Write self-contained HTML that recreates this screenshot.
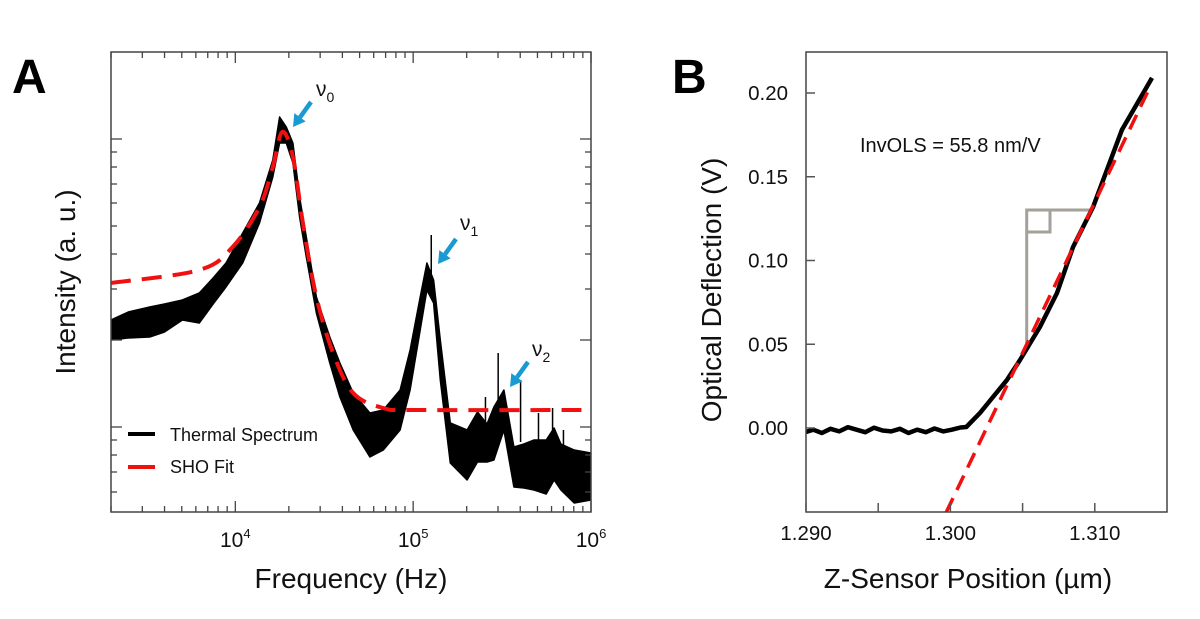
<!DOCTYPE html>
<html><head><meta charset="utf-8"><style>
html,body{margin:0;padding:0;background:#fff;}
svg{display:block;font-family:"Liberation Sans",Arial,sans-serif;}
</style></head><body>
<svg id="fig" width="1200" height="619" viewBox="0 0 1200 619"></svg>
<script>
// ---------- Panel A data ----------
const specFreq = [2000,2500,3300,4000,5040,6270,7500,8860,11000,13670,16250,17740,19340,21090,23000,25070,28580,33970,38710,46010,57150,67970,84460,96140,109600,119500,130300,142200,161800,201000,230000,260000,284300,323700,368600,420000,478400,560000,620000,677500,805000,1000000];
const specUpper = [0.96,1.0,1.025,1.04,1.06,1.095,1.17,1.245,1.395,1.545,1.76,1.975,1.925,1.845,1.575,1.375,1.075,0.875,0.745,0.595,0.495,0.51,0.61,0.81,1.075,1.245,1.16,0.86,0.445,0.41,0.5,0.44,0.525,0.61,0.325,0.34,0.36,0.36,0.42,0.34,0.31,0.295];
const specLower = [0.86,0.87,0.875,0.9,0.96,0.945,1.04,1.125,1.245,1.445,1.675,1.845,1.845,1.745,1.475,1.275,0.995,0.745,0.575,0.41,0.275,0.31,0.41,0.61,0.91,1.11,1.045,0.66,0.245,0.16,0.25,0.25,0.26,0.41,0.125,0.12,0.11,0.09,0.16,0.11,0.045,0.06];
const spikeFreq = [126400,255000,300600,401800,506700,608000,700000];
const spikeTop = [1.385,0.575,0.795,0.66,0.495,0.52,0.41];
const spikeBase = [1.15,0.4,0.45,0.35,0.3,0.3,0.3];
const fitFreq = [2000,6270,9650,13670,16250,18360,21090,23990,28580,35480,46010,67970,104900,1000000];
const fitVal = [1.145,1.21,1.325,1.525,1.725,1.9,1.775,1.445,1.075,0.795,0.595,0.52,0.51,0.51];
const yTickValsA = [1.865,1.80,1.725,1.64,1.545,1.43,1.29,1.115,0.86,0.425,0.36,0.285,0.2,0.1];
const yMajorA = [1.865,0.86,0.425];
const xDecadesA = [4,5,6];
// ---------- Panel B data ----------
const zPos = [1.2900,1.2905,1.2911,1.2917,1.2923,1.2929,1.2935,1.2941,1.2947,1.2953,1.2959,1.2965,1.2971,1.2977,1.2983,1.2989,1.2995,1.3001,1.3007,1.3011,1.30205,1.30295,1.30392,1.30482,1.3062,1.30738,1.30849,1.30988,1.31188,1.31396];
const defl = [-0.0024,-0.001,-0.003,-0.0005,-0.002,0.0005,-0.001,-0.0025,0.0002,-0.0015,-0.002,-0.0005,-0.003,-0.001,-0.0025,-0.0003,-0.002,-0.001,0.0003,0.0006,0.009,0.0185,0.0287,0.0406,0.0603,0.0806,0.108,0.132,0.178,0.209];
const fitZ = [1.2997,1.3139];
const fitD = [-0.0505,0.205];
const yTicksB = [0,0.05,0.10,0.15,0.20];
const yTickLabelsB = ["0.00","0.05","0.10","0.15","0.20"];
const xTicksB = [1.290,1.295,1.300,1.305,1.310];
const xTickLabelsB = ["1.290","","1.300","","1.310"];

const NS="http://www.w3.org/2000/svg";
const svg=document.getElementById('fig');
function mk(tag,attrs,parent){const e=document.createElementNS(NS,tag);for(const k in attrs)e.setAttribute(k,attrs[k]);(parent||svg).appendChild(e);return e;}

// ---- Panel A axes ----
const A={l:111,r:591,t:52,b:512};
const fmin=Math.log10(2000),fmax=6;
function xA(f){return A.l+(Math.log10(f)-fmin)/(fmax-fmin)*(A.r-A.l);}
function yA(v){return A.b-v*200;}
const gA=mk('g',{});


const clipA=mk('clipPath',{id:'clipA'},gA);mk('rect',{x:A.l,y:A.t,width:A.r-A.l,height:A.b-A.t},clipA);

let pts=[];
for(let i=0;i<specFreq.length;i++)pts.push(xA(specFreq[i]).toFixed(1)+','+yA(specUpper[i]).toFixed(1));
for(let i=specFreq.length-1;i>=0;i--)pts.push(xA(specFreq[i]).toFixed(1)+','+yA(specLower[i]).toFixed(1));
const band=mk('polygon',{points:pts.join(' '),fill:'#000',stroke:'#000','stroke-width':1.5,'stroke-linejoin':'round','clip-path':'url(#clipA)'},gA);


for(let i=0;i<spikeFreq.length;i++){
  const s=mk('line',{x1:xA(spikeFreq[i]),x2:xA(spikeFreq[i]),y1:yA(spikeBase[i]),y2:yA(spikeTop[i]),stroke:'#000','stroke-width':1.5},gA);
  
  
}
function smoothPath(P){let d='M'+P[0][0]+','+P[0][1];for(let i=0;i<P.length-1;i++){const p0=P[i-1]||P[i],p1=P[i],p2=P[i+1],p3=P[i+2]||P[i+1];const c1x=p1[0]+(p2[0]-p0[0])/6,c1y=p1[1]+(p2[1]-p0[1])/6,c2x=p2[0]-(p3[0]-p1[0])/6,c2y=p2[1]-(p3[1]-p1[1])/6;d+=' C'+c1x.toFixed(1)+','+c1y.toFixed(1)+' '+c2x.toFixed(1)+','+c2y.toFixed(1)+' '+p2[0].toFixed(1)+','+p2[1].toFixed(1);}return d;}
const fitPts=fitFreq.map((f,i)=>[xA(f),yA(fitVal[i])]);
const fitA=mk('path',{d:smoothPath(fitPts),fill:'none',stroke:'#f01010','stroke-width':4,'stroke-dasharray':'20 11','clip-path':'url(#clipA)'},gA);



const frA=mk('rect',{x:A.l,y:A.t,width:A.r-A.l,height:A.b-A.t,fill:'none',stroke:'#444','stroke-width':1.5},gA);


for(let d=3;d<=6;d++){for(let k=1;k<10;k++){const f=k*Math.pow(10,d);if(f<2000||f>1e6)continue;const x=xA(f);const L=k===1?11:6;
  mk('line',{x1:x,x2:x,y1:A.b,y2:A.b-L,stroke:'#444','stroke-width':1.3},gA);
  mk('line',{x1:x,x2:x,y1:A.t,y2:A.t+L,stroke:'#444','stroke-width':1.3},gA);}}
xDecadesA.forEach(dd=>{const t=mk('text',{x:xA(Math.pow(10,dd)),y:547,'font-size':21,'text-anchor':'middle',fill:'#111'},gA);
  
  
  t.innerHTML='10<tspan dy="-9" font-size="13">'+dd+'</tspan>';});
yTickValsA.forEach(v=>{const y=yA(v);const L=yMajorA.includes(v)?11:6;
  mk('line',{x1:A.l,x2:A.l+L,y1:y,y2:y,stroke:'#444','stroke-width':1.3},gA);
  mk('line',{x1:A.r,x2:A.r-L,y1:y,y2:y,stroke:'#444','stroke-width':1.3},gA);});

function arrow(x1,y1,x2,y2,name){const g=mk('g',{},gA);
  const ang=Math.atan2(y2-y1,x2-x1),hl=12,hw=7;const bx=x2-hl*Math.cos(ang),by=y2-hl*Math.sin(ang);
  mk('line',{x1:x1,y1:y1,x2:bx,y2:by,stroke:'#1a9ad2','stroke-width':4.5},g);
  const px=-Math.sin(ang)*hw,py=Math.cos(ang)*hw;
  mk('polygon',{points:`${x2},${y2} ${bx+px},${by+py} ${bx-px},${by-py}`,fill:'#1a9ad2'},g);}
arrow(311,102,293,127,'nu0-arrow');arrow(456,239,438,264,'nu1-arrow');arrow(528,362,510,387,'nu2-arrow');
[[316,96,'0','nu0-label'],[460,230,'1','nu1-label'],[532,356,'2','nu2-label']].forEach(a=>{
  const t=mk('text',{x:a[0],y:a[1],'font-size':21,fill:'#111'},gA);
  
  
  t.innerHTML='ν<tspan dy="6" font-size="14">'+a[2]+'</tspan>';});

const lg=mk('g',{},gA);
mk('line',{x1:128,x2:155,y1:434,y2:434,stroke:'#000','stroke-width':4},lg);
mk('line',{x1:128,x2:155,y1:467,y2:467,stroke:'#f01010','stroke-width':4},lg);
const l1=mk('text',{x:170,y:441,'font-size':18,fill:'#111'},lg);l1.textContent='Thermal Spectrum';


const l2=mk('text',{x:170,y:473,'font-size':18,fill:'#111'},lg);l2.textContent='SHO Fit';



const xtA=mk('text',{x:351,y:588,'font-size':28,'text-anchor':'middle',fill:'#111'},gA);xtA.textContent='Frequency (Hz)';


const ytA=mk('text',{x:0,y:0,'font-size':28,'text-anchor':'middle',fill:'#111',transform:'translate(75,282) rotate(-90)'},gA);ytA.textContent='Intensity (a. u.)';


const la=mk('text',{x:12,y:93,'font-size':48,'font-weight':'bold',fill:'#000'},gA);la.textContent='A';



// ---- Panel B ----
const B={l:806,r:1167,t:52,b:512};
function xB(v){return B.l+(v-1.290)/0.025*(B.r-B.l);}
function yB(v){return 428-v*1675;}
const gB=mk('g',{});


const clipB=mk('clipPath',{id:'clipB'},gB);mk('rect',{x:B.l,y:B.t,width:B.r-B.l,height:B.b-B.t},clipB);
const br=mk('path',{d:'M1026.7,343 L1026.7,210 L1090,210 M1026.7,232 L1050,232 L1050,210',fill:'none',stroke:'#a3a199','stroke-width':3},gB);


const cB=mk('polyline',{points:zPos.map((z,i)=>xB(z).toFixed(1)+','+yB(defl[i]).toFixed(1)).join(' '),fill:'none',stroke:'#000','stroke-width':4.5,'stroke-linejoin':'round','clip-path':'url(#clipB)'},gB);


const fB=mk('line',{x1:xB(fitZ[0]),y1:yB(fitD[0]),x2:xB(fitZ[1]),y2:yB(fitD[1]),stroke:'#f01010','stroke-width':3.5,'stroke-dasharray':'16 9','clip-path':'url(#clipB)'},gB);


const frB=mk('rect',{x:B.l,y:B.t,width:B.r-B.l,height:B.b-B.t,fill:'none',stroke:'#444','stroke-width':1.5},gB);


yTicksB.forEach((v,i)=>{const y=yB(v);mk('line',{x1:B.l,x2:B.l+9,y1:y,y2:y,stroke:'#555','stroke-width':1.5},gB);
  const t=mk('text',{x:788,y:y+7,'font-size':20.5,'text-anchor':'end',fill:'#111'},gB);t.textContent=yTickLabelsB[i];
  
  });
xTicksB.forEach((v,i)=>{const x=xB(v);mk('line',{x1:x,x2:x,y1:B.b,y2:B.b-9,stroke:'#555','stroke-width':1.5},gB);
  if(xTickLabelsB[i]){const t=mk('text',{x:x,y:540,'font-size':20.5,'text-anchor':'middle',fill:'#111'},gB);t.textContent=xTickLabelsB[i];
  
  }});
const inv=mk('text',{x:860,y:152,'font-size':20,fill:'#111'},gB);inv.textContent='InvOLS = 55.8 nm/V';


const xtB=mk('text',{x:968,y:588,'font-size':28,'text-anchor':'middle',fill:'#111'},gB);xtB.textContent='Z-Sensor Position (µm)';


const ytB=mk('text',{x:0,y:0,'font-size':28,'text-anchor':'middle',fill:'#111',transform:'translate(721,290) rotate(-90)'},gB);ytB.textContent='Optical Deflection (V)';


const lb=mk('text',{x:672,y:93,'font-size':48,'font-weight':'bold',fill:'#000'},gB);lb.textContent='B';


</script>
</body></html>
